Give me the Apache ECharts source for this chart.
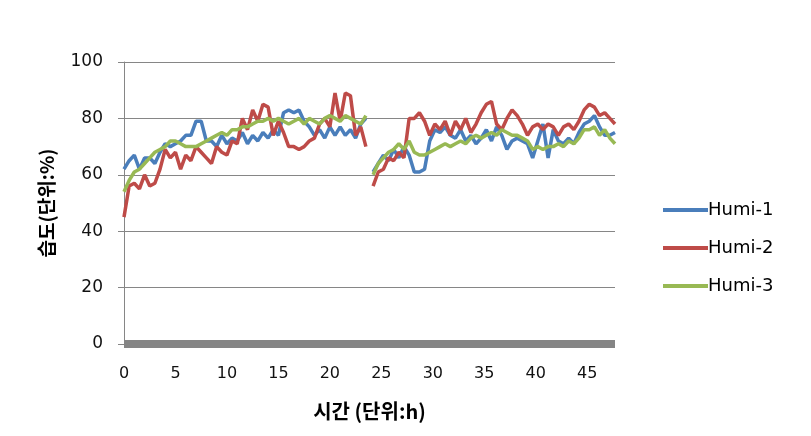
<!DOCTYPE html>
<html>
<head>
<meta charset="utf-8">
<script src="https://cdn.jsdelivr.net/npm/echarts@6/dist/echarts.min.js"></script>
<style>
html,body{margin:0;padding:0;background:#fff;}
#chart{width:811px;height:436px;}
</style>
</head>
<body>
<div id="chart"></div>
<script>
// Time (hours) for each reading; null entry separates the two days
const hours = [
  0,0.5,1,1.5,2,2.5,3,3.5,4,4.5,5,5.5,6,6.5,7,7.5,8,8.5,9,9.5,10,10.5,11,11.5,
  12,12.5,13,13.5,14,14.5,15,15.5,16,16.5,17,17.5,18,18.5,19,19.5,20,20.5,21,21.5,22,22.5,23,23.5,
  23.9,
  24.2,24.7,25.2,25.7,26.2,26.7,27.2,27.7,28.2,28.7,29.2,29.7,30.2,30.7,31.2,31.7,32.2,32.7,33.2,33.7,
  34.2,34.7,35.2,35.7,36.2,36.7,37.2,37.7,38.2,38.7,39.2,39.7,40.2,40.7,41.2,41.7,42.2,42.7,43.2,43.7,
  44.2,44.7,45.2,45.7,46.2,46.7,47.2,47.7
];
const humi1 = [
  62,65,67,62,66,66,64,68,71,70,71,72,74,74,79,79,72,72,70,74,71,73,72,75,
  71,74,72,75,73,76,74,82,83,82,83,79,77,74,76,73,77,74,77,74,76,73,78,80,
  null,
  61,64,67,65,69,66,70,67,61,61,62,72,76,75,77,74,73,76,72,74,
  71,73,76,72,77,74,69,72,73,72,71,66,72,78,66,76,72,71,73,71,
  75,78,79,81,77,74,74,75
];
const humi2 = [
  45,56,57,55,60,56,57,62,69,66,68,62,67,65,70,68,66,64,70,68,67,72,71,80,
  76,83,79,85,84,74,79,75,70,70,69,70,72,73,78,80,77,89,79,89,88,74,77,70,
  null,
  56,61,62,66,65,68,66,80,80,82,79,74,78,76,79,74,79,76,80,75,
  78,82,85,86,78,76,80,83,81,78,74,77,78,76,78,77,74,77,78,76,
  79,83,85,84,81,82,80,78
];
const humi3 = [
  54,58,61,62,64,66,68,69,70,72,72,71,70,70,70,71,72,73,74,75,74,76,76,77,
  77,78,79,79,80,79,80,79,78,79,80,78,80,79,78,80,81,80,79,81,80,79,78,81,
  null,
  60,64,66,68,69,71,69,72,68,67,67,68,69,70,71,70,71,72,71,73,
  74,73,74,75,74,76,75,74,74,73,72,69,70,69,70,70,71,70,72,71,
  73,76,76,77,74,76,73,71
];
const seriesNames = ['Humi-1','Humi-2','Humi-3'];
const seriesValues = [humi1, humi2, humi3];
const colors = ['#4A7EBB','#BE4B48','#98B954'];
const xTitle = '시간 (단위:h)';
const yTitle = '습도(단위:%)';

const chart = echarts.init(document.getElementById('chart'));
const font = 'DejaVu Sans';
chart.setOption({
  backgroundColor:'#fff',
  animation:false,
  color: colors,
  grid:{left:124, right:196, top:62, bottom:92},
  legend:{
    orient:'vertical', left:658, top:196,
    itemWidth:45, itemHeight:4, itemGap:20,
    icon:'rect',
    textStyle:{fontFamily:font, fontSize:18, color:'#000', padding:[0,0,0,-5]},
    data: seriesNames
  },
  xAxis:{
    type:'value', min:0, max:47.7, interval:5,
    offset:4,
    name:xTitle, nameLocation:'middle', nameGap:53,
    nameTextStyle:{fontFamily:'Noto Sans CJK KR', fontWeight:'bold', fontSize:20, color:'#000'},
    axisLine:{show:true, lineStyle:{color:'#858585', width:8, cap:'butt'}},
    axisTick:{show:false},
    axisLabel:{fontFamily:font, fontSize:16, color:'#111', margin:18,
      formatter:v=> (v%5===0 ? String(v) : '')},
    splitLine:{show:false}
  },
  yAxis:{
    type:'value', min:0, max:100, interval:20,
    name:yTitle, nameLocation:'middle', nameGap:68,
    nameTextStyle:{fontFamily:'Noto Sans CJK KR', fontWeight:'bold', fontSize:19, color:'#000'},
    axisLine:{show:true, lineStyle:{color:'#868686', width:1}},
    axisTick:{show:true, length:6, lineStyle:{color:'#868686'}},
    axisLabel:{fontFamily:font, fontSize:17, color:'#111', margin:21},
    splitLine:{show:true, lineStyle:{color:'#868686', width:1}}
  },
  series: seriesNames.map((n,i)=>({
    name:n, type:'line', showSymbol:false, symbol:'none',
    connectNulls:false,
    lineStyle:{width:3.5, color:colors[i]},
    data: hours.map((h,k)=>[h, seriesValues[i][k]])
  }))
});
</script>
</body>
</html>
